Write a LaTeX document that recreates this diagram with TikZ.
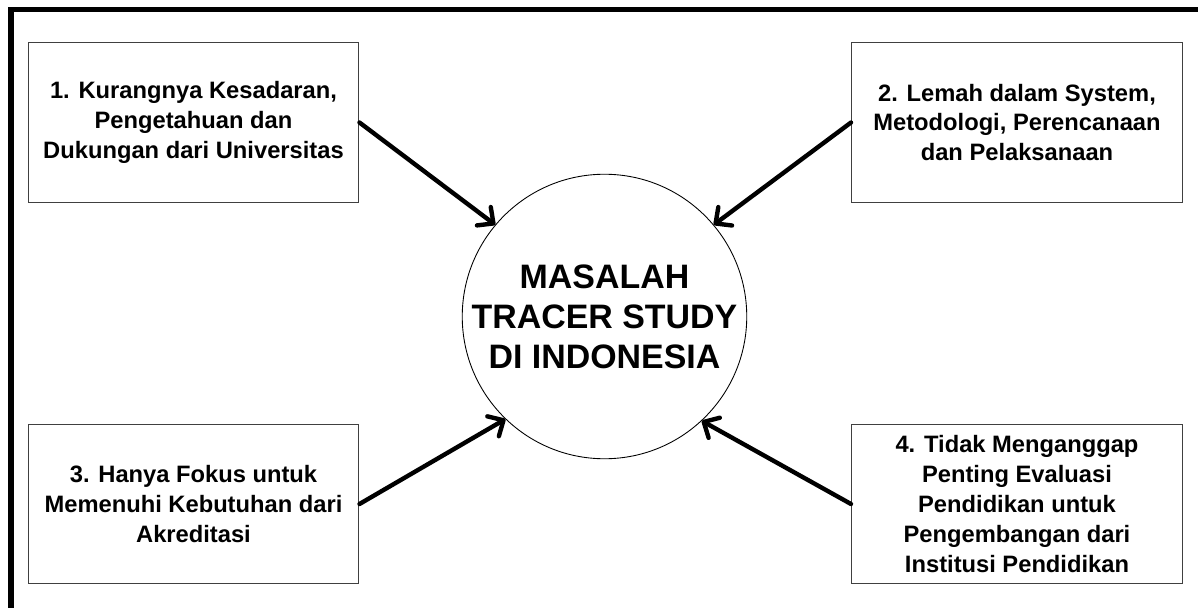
\documentclass[tikz,border=0pt]{standalone}
\usepackage{fontspec}
\setmainfont{Liberation Sans}
\usetikzlibrary{arrows.meta}

\begin{document}
\begin{tikzpicture}[x=0.02cm,y=-0.02cm,
    masalah/.style={shape=rectangle,draw=black!75,line width=0.6pt,minimum width=6.62cm,minimum height=3.19cm,
                    align=center,font=\fontsize{13.5}{17}\selectfont\bfseries},
    pusat/.style={shape=circle,draw=black,line width=0.5pt,minimum size=5.68cm,inner sep=0pt,
                  align=center,font=\fontsize{19.3}{22.7}\selectfont\bfseries},
    panah/.style={line width=2.5pt,line cap=round,-{Straight Barb[length=2.4mm,width=4.6mm,line cap=round,line join=round]}}]
    \useasboundingbox (0,0) rectangle (1198,608);
    % bingkai luar
    \draw[line width=3.4pt] (11,608) |- (1198,9.5);

    \node[pusat] (P) at (604.5,316.5) {MASALAH\\TRACER STUDY\\DI INDONESIA};

    \node[masalah] (M1) at (193.5,122.5) {1. Kurangnya Kesadaran,\\Pengetahuan dan\\Dukungan dari Universitas};
    \node[masalah] (M2) at (1017,122.5) {2. Lemah dalam System,\\Metodologi, Perencanaan\\dan Pelaksanaan};
    \node[masalah] (M3) at (193.5,504) {3. Hanya Fokus untuk\\Memenuhi Kebutuhan dari\\Akreditasi};
    \node[masalah] (M4) at (1017,504) {4. Tidak Menganggap\\Penting Evaluasi\\Pendidikan untuk\\Pengembangan dari\\Institusi Pendidikan};

    \draw [panah] (M1.east) -- (P.140);
    \draw [panah] (M2.west) -- (P.40);
    \draw [panah] (M3.east) -- (P.226);
    \draw [panah] (M4.west) -- (P.313);
\end{tikzpicture}
\end{document}
